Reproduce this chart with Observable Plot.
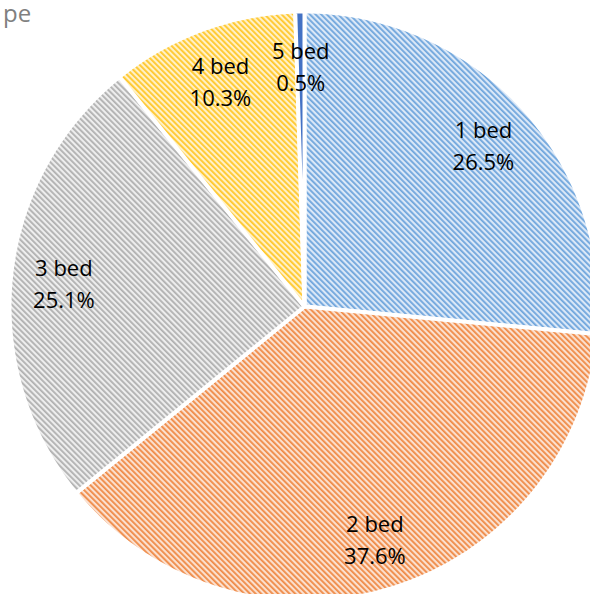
<!DOCTYPE html>
<html>
<head>
<meta charset="utf-8">
<script src="https://cdn.jsdelivr.net/npm/d3@7"></script>
<script src="https://cdn.jsdelivr.net/npm/@observablehq/plot@0.6"></script>
<style>
  html, body { margin: 0; padding: 0; background: #fff; overflow: hidden; }
  #wrap { position: relative; width: 590px; height: 594px; overflow: hidden; }
  #title { position: absolute; left: 3px; top: 1px; font: 24px/24px "Open Sans", sans-serif; color: #808080; white-space: nowrap; }
  #chart { position: absolute; left: 0; top: 0; }
</style>
</head>
<body>
<div id="wrap">
  <div id="chart"></div>
  <div id="title">pe</div>
</div>
<script>
// Data
const categories = ["1 bed", "2 bed", "3 bed", "4 bed", "5 bed"];
const shares = [26.5, 37.6, 25.1, 10.3, 0.5];
// Styles
const stripeColors = ["#6fa5dc", "#ef8a46", "#b0b0b0", "#ffc72a", "#4472C4"];
const bgColors = ["#dbe8f7", "#fbe0cf", "#eeeeee", "#fff1c8", "#4472C4"];

const arcs = d3.pie().sort(null).value(d => d)(shares);

// polygon vertices (unit circle, angle clockwise from 12 o'clock)
const polys = [];
arcs.forEach((a, i) => {
  polys.push({key: i, x: 0, y: 0});
  const n = Math.max(4, Math.ceil((a.endAngle - a.startAngle) * 80));
  for (let k = 0; k <= n; k++) {
    const t = a.startAngle + (a.endAngle - a.startAngle) * k / n;
    polys.push({key: i, x: Math.sin(t), y: Math.cos(t)});
  }
});
const labels = arcs.map((a, i) => {
  const m = (a.startAngle + a.endAngle) / 2;
  return {x: 0.82 * Math.sin(m), y: 0.82 * Math.cos(m), text: `${categories[i]}\n${shares[i].toFixed(1)}%`};
});

const cx = 304, cy = 306, R = 295;
const plot = Plot.plot({
  width: 590, height: 594,
  margin: 0,
  x: {domain: [-1, 1], range: [cx - R, cx + R], axis: null},
  y: {domain: [-1, 1], range: [cy + R, cy - R], axis: null},
  color: {type: "identity"},
  style: {background: "transparent", overflow: "hidden"},
  marks: [
    Plot.line(polys, {x: "x", y: "y", z: "key", curve: "linear-closed",
      fill: d => `url(#pat${d.key})`, stroke: "white", strokeWidth: 4, strokeLinejoin: "round"}),
    Plot.text(labels, {x: "x", y: "y", text: "text", fontSize: 22, lineHeight: 1.45,
      fontFamily: "Open Sans, sans-serif", fill: "#000"})
  ]
});

// Pattern definitions
const ns = "http://www.w3.org/2000/svg";
const defs = document.createElementNS(ns, "defs");
stripeColors.forEach((c, i) => {
  const p = document.createElementNS(ns, "pattern");
  p.setAttribute("id", `pat${i}`);
  p.setAttribute("patternUnits", "userSpaceOnUse");
  p.setAttribute("width", 4);
  p.setAttribute("height", 4);
  p.setAttribute("patternTransform", "rotate(-45)");
  const bg = document.createElementNS(ns, "rect");
  bg.setAttribute("width", 4); bg.setAttribute("height", 4); bg.setAttribute("fill", bgColors[i]);
  const fg = document.createElementNS(ns, "rect");
  fg.setAttribute("width", 1.8); fg.setAttribute("height", 4); fg.setAttribute("fill", c);
  p.appendChild(bg); p.appendChild(fg);
  defs.appendChild(p);
});
plot.insertBefore(defs, plot.firstChild);
document.getElementById("chart").appendChild(plot);
</script>
</body>
</html>
